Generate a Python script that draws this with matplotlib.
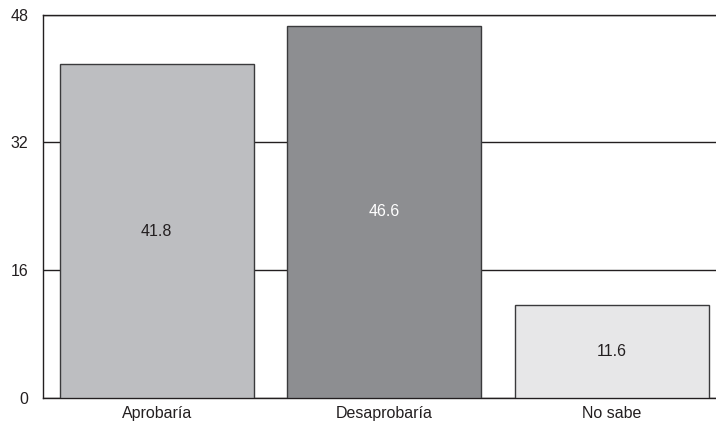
import matplotlib
matplotlib.use("Agg")
import matplotlib.pyplot as plt

categories = ["Aprobaría", "Desaprobaría", "No sabe"]
values = [41.8, 46.6, 11.6]
bar_colors = ["#bdbec1", "#8d8e91", "#e7e7e8"]
label_colors = ["#231f20", "white", "#231f20"]
yticks = [0, 16, 32, 48]

plt.rcParams['font.family'] = ['Liberation Sans', 'DejaVu Sans']

fig = plt.figure(figsize=(7.16, 4.29), dpi=100)
ax = fig.add_axes([0.0601, 0.0723, 0.9399, 0.8934])

x = range(len(categories))
bars = ax.bar(x, values, width=0.853, color=bar_colors, edgecolor="#3a3a3c",
              linewidth=1.0, zorder=3)
for b, v, c in zip(bars, values, label_colors):
    ax.text(b.get_x() + b.get_width() / 2, v / 2, f"{v:.1f}", ha="center",
            va="center", fontsize=11.5, color=c, zorder=4)

ax.set_xlim(-0.5, 2.458)
ax.set_ylim(0, 48)
ax.set_yticks(yticks)
ax.set_yticklabels([str(t) for t in yticks], fontsize=11.5, color="#231f20")
ax.set_xticks(list(x))
ax.set_xticklabels(categories, fontsize=11.5, color="#231f20")
ax.tick_params(axis="both", length=0)
ax.tick_params(axis="y", pad=10.5)
ax.tick_params(axis="x", pad=6)

ax.yaxis.grid(True, color="#231f20", linewidth=1.0, zorder=0)
ax.set_axisbelow(True)
ax.spines["right"].set_visible(False)
for s in ["left", "bottom", "top"]:
    ax.spines[s].set_color("#231f20")
    ax.spines[s].set_linewidth(1.0)

fig.savefig("out.png", dpi=100)
